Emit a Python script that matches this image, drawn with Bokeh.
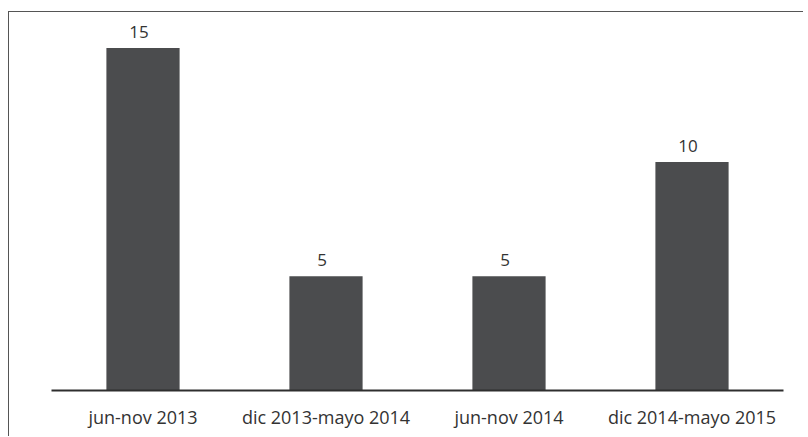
from bokeh.plotting import figure
from bokeh.models import ColumnDataSource, FactorRange, Range1d, LabelSet
from bokeh.core.properties import value
from bokeh.embed import file_html
from bokeh.resources import INLINE

periods = ["jun-nov 2013", "dic 2013-mayo 2014", "jun-nov 2014", "dic 2014-mayo 2015"]
counts = [15, 5, 5, 10]
count_labels = ["15", "5", "5", "10"]

src = ColumnDataSource(dict(x=periods, y=counts, lab=count_labels))

p = figure(
    x_range=FactorRange(*periods, range_padding=0),
    y_range=Range1d(0, 16.55),
    width=794, height=424,
    output_backend="svg", toolbar_location=None,
    y_axis_location=None,
    min_border_left=42, min_border_right=21, min_border_top=0, min_border_bottom=47,
)
p.styles = {"position": "absolute", "left": "8px", "top": "11px",
            "box-sizing": "content-box", "overflow": "hidden",
            "border-left": "1.5px solid #555555", "border-top": "1.5px solid #555555",
            "border-right": "none", "border-bottom": "none", "outline": "none"}

p.vbar(x="x", top="y", width=0.4, source=src, fill_color="#4b4c4e", line_color=None)

labels = LabelSet(x="x", y="y", text="lab", source=src, x_offset=-4, y_offset=10,
                  text_align="center", text_baseline="bottom",
                  text_font=value("Open Sans"), text_font_size="17px", text_color="#333333")
p.add_layout(labels)

p.outline_line_color = None
p.xgrid.visible = False
p.ygrid.visible = False
p.background_fill_color = "white"
p.border_fill_color = "white"

ax = p.xaxis[0]
ax.axis_line_color = "#2e2e2e"
ax.axis_line_width = 2
ax.major_tick_line_color = None
ax.minor_tick_line_color = None
ax.major_label_standoff = 8
ax.major_label_text_font = "Open Sans"
ax.major_label_text_font_size = "18px"
ax.major_label_text_color = "#333333"

open("out.html", "w").write(file_html(p, INLINE))
